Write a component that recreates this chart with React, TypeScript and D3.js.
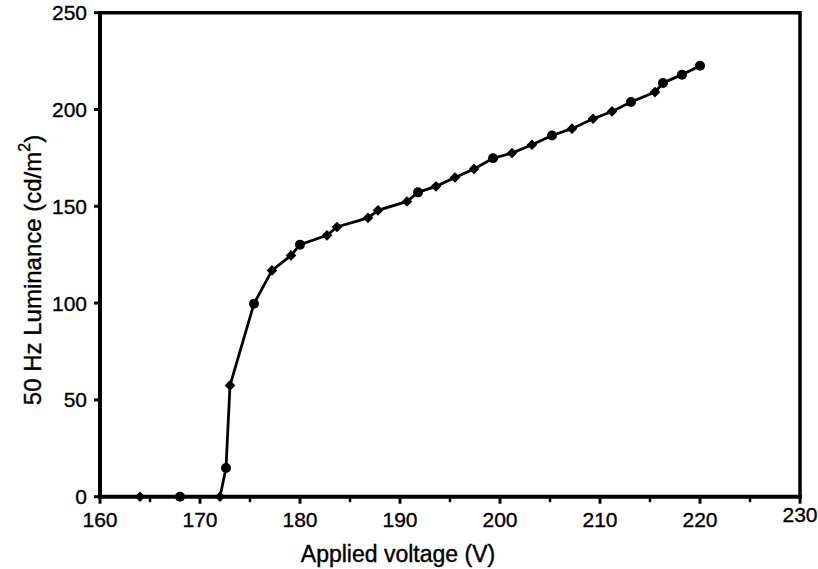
import * as React from "react";
import * as d3 from "d3";

// points drawn with round markers
const circleVoltage = [168, 172.6, 175.4, 180, 191.8, 199.3, 205.2, 213.1, 216.3, 218.2, 220];
const circleLuminance = [0, 14.8, 99.7, 130.2, 157.2, 174.8, 186.6, 203.9, 213.7, 218, 222.6];

// points drawn with diamond markers
const diamondVoltage = [164, 172, 173, 177.2, 179.1, 182.7, 183.7, 186.8, 187.8, 190.7, 193.6, 195.5, 197.4, 201.2, 203.2, 207.2, 209.3, 211.2, 215.5];
const diamondLuminance = [0, 0, 57.5, 116.9, 124.6, 135, 139.3, 144, 147.9, 152.5, 160.3, 164.9, 169.3, 177.5, 181.8, 190.1, 195.2, 199, 209];

const xTicks = [160, 170, 180, 190, 200, 210, 220, 230];
const xMinorTicks = [165, 175, 185, 195, 205, 215, 225];
const yTicks = [0, 50, 100, 150, 200, 250];

const W = 818;
const H = 569;
const FONT = "Arial, 'Liberation Sans', Helvetica, sans-serif";

function drawChart(node: SVGSVGElement) {
  const svg = d3.select(node);
  svg.selectAll("*").remove();

  const x = d3.scaleLinear().domain([160, 230]).range([100, 800]);
  const y = d3.scaleLinear().domain([0, 250]).range([496.7, 12.7]);

  const circles = circleVoltage.map((v, i) => ({ v, l: circleLuminance[i] }));
  const diamonds = diamondVoltage.map((v, i) => ({ v, l: diamondLuminance[i] }));
  const all = circles.concat(diamonds).sort((a, b) => a.v - b.v);

  // frame (top + right)
  svg.append("path")
    .attr("d", `M${x(160)},${y(250)}H${x(230)}V${y(0)}`)
    .attr("fill", "none")
    .attr("stroke", "#000")
    .attr("stroke-width", 3.5);

  // x axis
  const xAxis = svg.append("g").attr("transform", `translate(0,${y(0)})`);
  xAxis.append("line")
    .attr("x1", x(160) - 2).attr("x2", x(230) + 2)
    .attr("stroke", "#000").attr("stroke-width", 4);
  xAxis.selectAll(".maj").data(xTicks).enter().append("line")
    .attr("x1", (d) => x(d)).attr("x2", (d) => x(d))
    .attr("y1", 0).attr("y2", 7)
    .attr("stroke", "#000").attr("stroke-width", 3);
  xAxis.selectAll(".min").data(xMinorTicks).enter().append("line")
    .attr("x1", (d) => x(d)).attr("x2", (d) => x(d))
    .attr("y1", 0).attr("y2", 5.5)
    .attr("stroke", "#000").attr("stroke-width", 2.5);
  xAxis.selectAll(".lbl").data(xTicks).enter().append("text")
    .attr("x", (d) => x(d))
    .attr("y", (d) => (d === 230 ? 25 : 30))
    .attr("text-anchor", "middle")
    .attr("font-family", FONT)
    .attr("font-size", 21)
    .attr("stroke", "#000").attr("stroke-width", 0.35)
    .text((d) => d);

  // y axis
  const yAxis = svg.append("g").attr("transform", `translate(${x(160)},0)`);
  yAxis.append("line")
    .attr("y1", y(250) - 1.75).attr("y2", y(0) + 2)
    .attr("stroke", "#000").attr("stroke-width", 4);
  yAxis.selectAll(".maj").data(yTicks).enter().append("line")
    .attr("y1", (d) => y(d)).attr("y2", (d) => y(d))
    .attr("x1", -6).attr("x2", 0)
    .attr("stroke", "#000").attr("stroke-width", 3);
  yAxis.selectAll(".lbl").data(yTicks).enter().append("text")
    .attr("x", -13)
    .attr("y", (d) => y(d))
    .attr("dy", "0.36em")
    .attr("text-anchor", "end")
    .attr("font-family", FONT)
    .attr("font-size", 21)
    .attr("stroke", "#000").attr("stroke-width", 0.35)
    .text((d) => d);

  // axis titles
  svg.append("text")
    .attr("x", 398).attr("y", 562)
    .attr("text-anchor", "middle")
    .attr("font-family", FONT)
    .attr("font-size", 23)
    .attr("stroke", "#000").attr("stroke-width", 0.4)
    .text("Applied voltage (V)");

  const yt = svg.append("text")
    .attr("transform", "translate(41,270) rotate(-90)")
    .attr("text-anchor", "middle")
    .attr("font-family", FONT)
    .attr("font-size", 24)
    .attr("stroke", "#000").attr("stroke-width", 0.4);
  yt.append("tspan").text("50 Hz Luminance (cd/m");
  yt.append("tspan").attr("font-size", 16).attr("dy", -11).text("2");
  yt.append("tspan").attr("dy", 11).text(")");

  // curve
  const line = d3.line<{ v: number; l: number }>()
    .x((d) => x(d.v))
    .y((d) => y(d.l));
  svg.append("path")
    .datum(all)
    .attr("d", line)
    .attr("fill", "none")
    .attr("stroke", "#000")
    .attr("stroke-width", 2.8);

  // markers
  const diamond = d3.symbol().type(d3.symbolDiamond2).size(72);
  svg.selectAll(".dia").data(diamonds).enter().append("path")
    .attr("d", diamond)
    .attr("transform", (d) => `translate(${x(d.v)},${y(d.l)})`)
    .attr("fill", "#000");
  svg.selectAll(".dot").data(circles).enter().append("circle")
    .attr("cx", (d) => x(d.v))
    .attr("cy", (d) => y(d.l))
    .attr("r", 5)
    .attr("fill", "#000");
}

const App = () => {
  const svg = React.useRef<SVGSVGElement>(null);
  React.useEffect(() => {
    document.body.style.margin = "0";
    if (svg.current) drawChart(svg.current);
  }, []);

  return (
    <div id="chart">
      <svg ref={svg} width={W} height={H} style={{ display: "block", background: "#fff" }}></svg>
    </div>
  );
};

export default App;
